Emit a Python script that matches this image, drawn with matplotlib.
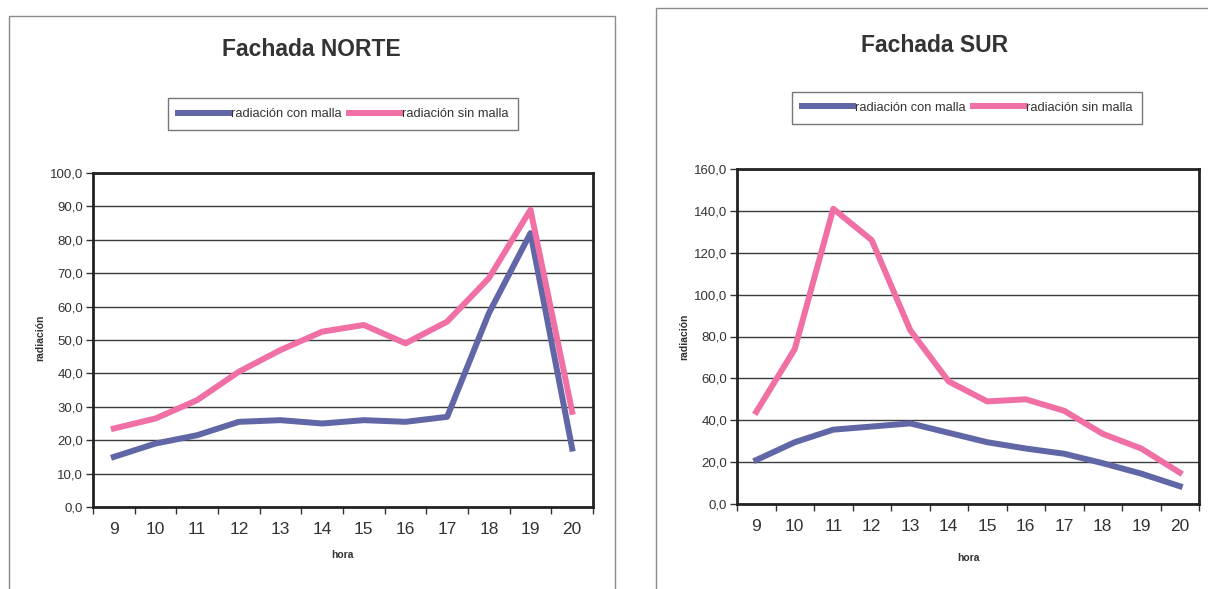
import matplotlib
matplotlib.use('Agg')
import matplotlib.pyplot as plt
import matplotlib.ticker as mtick
from matplotlib.lines import Line2D
from matplotlib.patches import Rectangle
import numpy as np

# Hourly radiation readings, with and without the shading mesh
horas = [9, 10, 11, 12, 13, 14, 15, 16, 17, 18, 19, 20]

norte_con_malla = [15.0, 19.0, 21.5, 25.5, 26.0, 25.0, 26.0, 25.5, 27.0, 58.0, 82.0, 17.5]
norte_sin_malla = [23.5, 26.5, 32.0, 40.5, 47.0, 52.5, 54.5, 49.0, 55.5, 68.5, 89.0, 28.5]

sur_con_malla = [21.0, 29.5, 35.5, 37.0, 38.5, 34.0, 29.5, 26.5, 24.0, 19.5, 14.5, 8.5]
sur_sin_malla = [44.0, 74.0, 141.0, 126.0, 83.0, 58.5, 49.0, 50.0, 44.5, 33.5, 26.5, 15.0]

etiquetas = ['radiación con malla', 'radiación sin malla']

AZUL = '#6066a6'
ROSA = '#f070a6'
TEXTO = '#333333'

W, H = 1208, 589
plt.rcParams['font.family'] = ['Liberation Sans', 'DejaVu Sans']

fig = plt.figure(figsize=(W / 100, H / 100), dpi=100)
fig.patch.set_facecolor('white')


def caja(x0, y0, x1, y1):
    # pixel box (top-left origin) -> figure fraction rect
    return [x0 / W, 1 - y1 / H, (x1 - x0) / W, (y1 - y0) / H]


def coma(v, pos):
    return f'{v:.1f}'.replace('.', ',')


def panel(area, marco, titulo, pos_titulo, pos_leyenda, pos_ylabel, pos_xlabel,
          con_malla, sin_malla, ymax, paso):
    # outer chart frame
    x0, y0, x1, y1 = marco
    fig.add_artist(Rectangle((x0 / W, 1 - y1 / H), (x1 - x0) / W, (y1 - y0) / H,
                             transform=fig.transFigure, fill=False,
                             edgecolor='#8a8a8a', linewidth=1.0))

    ax = fig.add_axes(caja(*area))
    ax.plot(horas, con_malla, color=AZUL, linewidth=4.3, zorder=3)
    ax.plot(horas, sin_malla, color=ROSA, linewidth=4.3, zorder=3)

    ax.set_xlim(horas[0] - 0.5, horas[-1] + 0.5)
    ax.set_ylim(0, ymax)
    ax.set_yticks(np.arange(0, ymax + paso / 2, paso))
    ax.yaxis.set_major_formatter(mtick.FuncFormatter(coma))

    ax.set_xticks(horas)
    ax.set_xticks(np.arange(horas[0] - 0.5, horas[-1] + 1), minor=True)
    ax.tick_params(axis='x', which='major', length=0, pad=11,
                   labelsize=12.5, labelcolor=TEXTO)
    ax.tick_params(axis='x', which='minor', length=5, width=1,
                   direction='out', color='#333333')
    ax.tick_params(axis='y', length=5, width=1, direction='out',
                   color='#333333', labelsize=9.5, labelcolor=TEXTO, pad=2)

    ax.yaxis.grid(True, color='#3c3c3c', linewidth=1.0)
    ax.set_axisbelow(True)
    for s in ax.spines.values():
        s.set_linewidth(2.0)
        s.set_color('#222222')

    fig.text(pos_titulo[0] / W, 1 - pos_titulo[1] / H, titulo, fontsize=16.5,
             fontweight='bold', color=TEXTO, ha='center', va='center')
    fig.text(pos_ylabel[0] / W, 1 - pos_ylabel[1] / H, 'radiación', fontsize=7.5,
             fontweight='bold', color=TEXTO, rotation=90, ha='center', va='center')
    fig.text(pos_xlabel[0] / W, 1 - pos_xlabel[1] / H, 'hora', fontsize=7.5,
             fontweight='bold', color=TEXTO, ha='center', va='center')

    handles = [Line2D([], [], color=AZUL, linewidth=4.3),
               Line2D([], [], color=ROSA, linewidth=4.3)]
    leg = fig.legend(handles, etiquetas, loc='center',
                     bbox_to_anchor=(pos_leyenda[0] / W, 1 - pos_leyenda[1] / H),
                     ncol=2, fontsize=9.3, frameon=True, fancybox=False,
                     edgecolor='#555555', handlelength=4.0, handletextpad=0.1,
                     columnspacing=0.6, borderpad=0.75, borderaxespad=0)
    leg.get_frame().set_linewidth(1.0)
    for t in leg.get_texts():
        t.set_color(TEXTO)
    return ax


panel((93, 173, 593, 507), (9, 16, 615, 620), 'Fachada NORTE', (311, 49),
      (343, 114), (40, 338), (343, 555),
      norte_con_malla, norte_sin_malla, 100, 10)

panel((737, 169, 1199, 504), (656, 8, 1230, 620), 'Fachada SUR', (935, 45),
      (967, 108), (684, 337), (968, 558),
      sur_con_malla, sur_sin_malla, 160, 20)

fig.savefig('out.png', dpi=100)
